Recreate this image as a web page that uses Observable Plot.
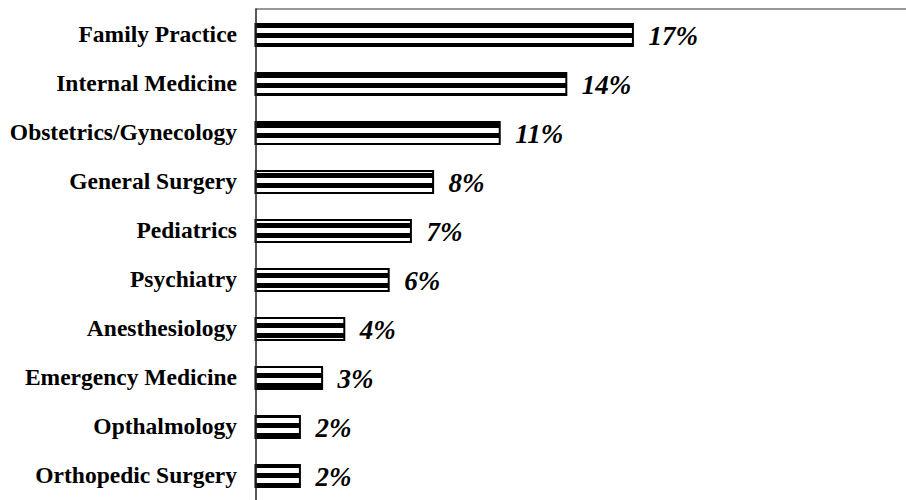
<!DOCTYPE html>
<html>
<head>
<meta charset="utf-8">
<script src="https://cdn.jsdelivr.net/npm/d3@7"></script>
<script src="https://cdn.jsdelivr.net/npm/@observablehq/plot@0.6"></script>
<style>
  html, body { margin: 0; padding: 0; background: #fff; }
  svg { display: block; }
</style>
</head>
<body>
<div id="chart"></div>
<script>
const specialties = [
  "Family Practice",
  "Internal Medicine",
  "Obstetrics/Gynecology",
  "General Surgery",
  "Pediatrics",
  "Psychiatry",
  "Anesthesiology",
  "Emergency Medicine",
  "Opthalmology",
  "Orthopedic Surgery"
];
const percents = [17, 14, 11, 8, 7, 6, 4, 3, 2, 2];

const data = specialties.map((name, i) => ({name, value: percents[i]}));

const chart = Plot.plot({
  width: 906,
  height: 500,
  marginLeft: 255.5,
  marginRight: 0,
  marginTop: 8.5,
  marginBottom: 0,
  style: {fontFamily: "'Liberation Serif', 'Times New Roman', serif", color: "#000", background: "#fff"},
  x: {domain: [0, 29.3], axis: null},
  y: {domain: specialties, range: [8.5, 502.5], paddingInner: 0.55, paddingOuter: 0.275, label: null},
  marks: [
    Plot.axisY({tickSize: 0, tickPadding: 19, fontSize: 23.5, fontWeight: "bold", label: null, dy: -1}),
    Plot.barX(data, {x: "value", y: "name", fill: "url(#stripes)", stroke: "#000", strokeWidth: 2}),
    Plot.text(data, {x: "value", y: "name", text: d => d.value + "%", dx: 15, dy: 1, textAnchor: "start",
      fontSize: 27, fontWeight: "bold", fontStyle: "italic", fill: "#000"}),
    Plot.ruleX([0], {stroke: "#222", strokeWidth: 1.5}),
    Plot.frame({anchor: "top", stroke: "#333", strokeWidth: 1.2})
  ]
});

const ns = "http://www.w3.org/2000/svg";
const defs = document.createElementNS(ns, "defs");
const pat = document.createElementNS(ns, "pattern");
pat.setAttribute("id", "stripes");
pat.setAttribute("patternUnits", "userSpaceOnUse");
pat.setAttribute("width", "10");
pat.setAttribute("height", "10");
const bg = document.createElementNS(ns, "rect");
bg.setAttribute("width", "10"); bg.setAttribute("height", "10"); bg.setAttribute("fill", "#fff");
const st = document.createElementNS(ns, "rect");
st.setAttribute("y", "3"); st.setAttribute("width", "10"); st.setAttribute("height", "5"); st.setAttribute("fill", "#000");
pat.appendChild(bg); pat.appendChild(st);
defs.appendChild(pat);
const svgEl = chart.tagName.toLowerCase() === "svg" ? chart : chart.querySelector("svg");
svgEl.insertBefore(defs, svgEl.firstChild);

document.getElementById("chart").appendChild(chart);
</script>
</body>
</html>
